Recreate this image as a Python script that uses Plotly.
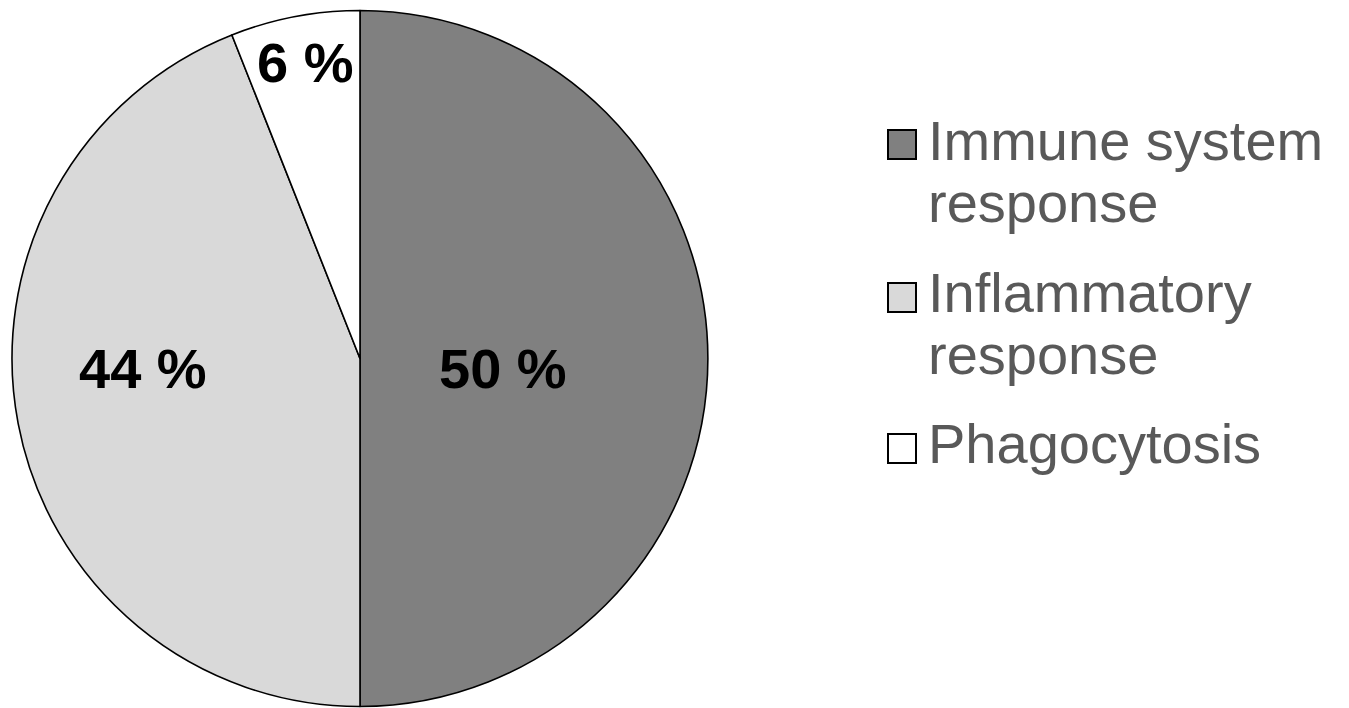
import plotly.graph_objects as go

# Share of genes per functional category (%)
categories = ["Immune system response", "Inflammatory response", "Phagocytosis"]
legend_lines = [["Immune system", "response"], ["Inflammatory", "response"], ["Phagocytosis"]]
values = [50, 44, 6]
colors = ["#808080", "#d9d9d9", "#ffffff"]

W, H = 1349, 708

def px(x):
    return x / W

def py(y):
    return 1 - y / H

# Pie geometry (pixels)
cx, cy, r = 360, 358.5, 348

fig = go.Figure(go.Pie(
    labels=categories,
    values=values,
    sort=False,
    direction="clockwise",
    rotation=0,
    marker=dict(colors=colors, line=dict(color="#000000", width=1.6)),
    textinfo="none",
    hoverinfo="label+percent",
    showlegend=False,
    domain=dict(x=[px(cx - r), px(cx + r)], y=[py(cy + r), py(cy - r)]),
))

annotations = []
shapes = []

# Percentage labels inside the slices
label_pos = [(503, 368), (143, 368), (305, 63)]
for v, (lx, ly) in zip(values, label_pos):
    annotations.append(dict(
        x=px(lx), y=py(ly), xref="paper", yref="paper",
        text=f"<b>{v} %</b>", showarrow=False,
        xanchor="center", yanchor="middle",
        font=dict(family="Liberation Sans, Arial, sans-serif", size=56, color="#000000"),
    ))

# Legend: swatches and wrapped entry text
swatch_top = [130, 283, 434]
line_centers = [[140, 202], [292, 355], [443]]
for col, top, lines, centers in zip(colors, swatch_top, legend_lines, line_centers):
    shapes.append(dict(
        type="rect", xref="paper", yref="paper",
        x0=px(888), x1=px(916), y0=py(top + 29), y1=py(top),
        fillcolor=col, line=dict(color="#000000", width=2),
    ))
    for line, c in zip(lines, centers):
        annotations.append(dict(
            x=px(926), y=py(c), xref="paper", yref="paper",
            text=line, showarrow=False,
            xanchor="left", yanchor="middle",
            font=dict(family="Liberation Sans, Arial, sans-serif", size=56, color="#595959"),
        ))

fig.update_layout(
    width=W, height=H,
    margin=dict(l=0, r=0, t=0, b=0),
    paper_bgcolor="#ffffff",
    plot_bgcolor="#ffffff",
    annotations=annotations,
    shapes=shapes,
)

fig.write_html("out.html")
